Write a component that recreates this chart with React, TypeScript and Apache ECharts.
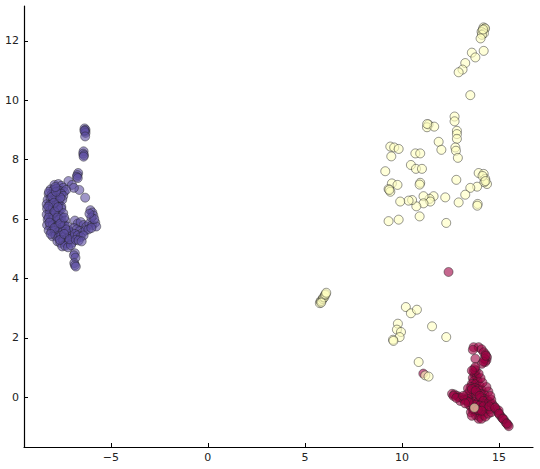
import React, { useEffect, useRef } from "react";
import * as echarts from "echarts";

const xTicks = [-5, 0, 5, 10, 15];
const yTicks = [0, 2, 4, 6, 8, 10, 12];

const crimsonPoints: number[][] = [
  [12.4, 4.22], [11.1, 0.8],
  [13.69, 1.69], [13.95, 1.69], [14.1, 1.62], [14.21, 1.52], [14.3, 1.45], [14.38, 1.35], [14.35, 1.25],
  [14.29, 1.19], [14.12, 1.13], [13.78, 1.3], [13.65, 1.6], [14.25, 1.3], [14.2, 1.2], [14.32, 1.4],
  [13.7, 0.85], [13.75, 0.75], [13.65, 0.65], [13.85, 0.7], [13.7, 0.55], [13.9, 0.55], [13.6, 0.45],
  [13.8, 0.45], [14.0, 0.4], [13.55, 0.35], [13.75, 0.32], [13.95, 0.28], [14.1, 0.25], [13.5, 0.22],
  [13.7, 0.18], [13.9, 0.15], [14.1, 0.12], [14.25, 0.1], [13.45, 0.05], [13.65, 0.02], [13.85, 0.0],
  [14.05, -0.02], [14.25, -0.05], [14.4, -0.1], [13.5, -0.12], [13.7, -0.15], [13.9, -0.18], [14.1, -0.2],
  [14.3, -0.22], [13.55, -0.3], [13.75, -0.32], [13.95, -0.35], [14.15, -0.38], [14.35, -0.4], [13.65, -0.45],
  [13.85, -0.5], [14.05, -0.52], [14.25, -0.48], [13.8, -0.6], [14.0, -0.65], [14.2, -0.6], [13.95, -0.72],
  [13.4, 0.3], [13.35, 0.1], [13.38, -0.05], [13.45, -0.25], [13.55, -0.5], [13.6, -0.62], [14.1, -0.72],
  [14.3, -0.65], [14.45, -0.55], [14.5, -0.4], [14.6, -0.5], [14.45, 0.2], [14.35, 0.35], [14.15, 0.5],
  [14.05, 0.65], [13.95, 0.8], [13.8, 0.9], [13.6, 0.28], [13.8, 0.22], [14.0, 0.05], [14.2, -0.12],
  [13.6, -0.2], [13.8, -0.25], [14.0, -0.28], [14.2, -0.3], [13.7, -0.4], [13.9, -0.42], [14.1, -0.45],
  [12.58, 0.12], [12.7, 0.1], [12.85, 0.05], [12.95, 0.0], [13.1, -0.02], [13.2, -0.08], [13.3, -0.1],
  [13.43, -0.16], [12.65, 0.05], [13.0, -0.12], [12.8, -0.02], [13.15, 0.05], [13.25, -0.2],
  [14.5, -0.15], [14.64, -0.21], [14.75, -0.3], [14.85, -0.4], [14.95, -0.5], [15.05, -0.6], [15.15, -0.68],
  [15.25, -0.75], [15.35, -0.85], [15.45, -0.92], [15.5, -0.97], [14.6, -0.08], [14.5, -0.3], [14.98, -0.44],
  [14.8, -0.35], [15.0, -0.55], [15.2, -0.72], [15.4, -0.88],
  [13.72, 0.95], [13.78, 1.02], [13.6, 0.9], [14.55, 0.05],
];

const yellowPoints: number[][] = [
  [14.2, 12.45], [14.25, 12.4], [14.15, 12.35], [14.28, 12.42], [14.1, 12.3], [14.22, 12.25], [14.12, 12.2],
  [14.18, 12.38], [14.05, 12.08], [14.21, 11.66], [13.6, 11.6], [13.78, 11.44], [13.26, 11.25], [13.12, 11.03],
  [12.92, 10.94], [13.52, 10.17],
  [11.37, 9.18], [11.29, 9.09], [11.66, 9.11], [11.3, 9.2],
  [12.71, 9.45], [12.71, 9.29], [12.83, 8.97], [12.83, 8.86], [12.83, 8.7], [12.75, 8.41], [12.78, 8.3],
  [12.88, 8.06], [11.89, 8.6], [12.03, 8.33],
  [9.4, 8.44], [9.6, 8.41], [9.83, 8.36], [9.45, 8.11], [10.69, 8.21], [10.94, 8.21],
  [10.46, 7.82], [10.72, 7.69], [11.03, 7.69], [9.14, 7.61], [12.8, 7.32], [10.94, 7.22], [10.91, 7.16],
  [9.48, 7.2], [9.77, 7.15], [9.31, 7.01], [9.4, 6.92], [9.35, 6.98],
  [13.95, 7.55], [14.21, 7.52], [14.29, 7.35], [14.38, 7.18], [14.24, 7.24], [14.15, 7.45], [14.3, 7.28],
  [13.87, 7.09], [13.52, 7.05], [13.26, 6.82], [12.92, 6.56], [13.9, 6.51], [13.88, 6.45],
  [12.23, 6.73], [11.63, 6.77], [11.42, 6.68], [11.46, 6.59], [11.11, 6.77], [11.11, 6.53], [10.74, 6.43],
  [10.52, 6.64], [10.34, 6.62], [9.91, 6.59],
  [9.31, 5.93], [9.83, 5.98], [10.91, 6.09], [12.28, 5.87],
  [10.2, 3.04], [10.46, 2.83], [10.77, 2.95], [9.79, 2.48], [9.74, 2.28], [9.95, 2.2], [9.88, 2.03],
  [9.54, 1.94], [9.56, 1.9], [11.55, 2.39], [12.28, 2.03], [10.86, 1.19], [11.2, 0.74], [11.37, 0.7],
  [13.73, -0.35],
  [5.77, 3.17], [5.81, 3.24], [5.86, 3.25], [5.92, 3.31], [5.95, 3.36], [6.0, 3.37], [6.03, 3.44],
  [6.07, 3.47], [6.1, 3.52], [5.84, 3.19],
];

const purplePoints: number[][] = [
  [-6.35, 9.05], [-6.3, 9.0], [-6.33, 8.95], [-6.3, 8.9], [-6.36, 8.98], [-6.32, 8.78],
  [-6.4, 8.28], [-6.42, 8.2], [-6.38, 8.15], [-6.4, 8.1],
  [-6.68, 7.55], [-6.72, 7.48], [-6.75, 7.42], [-6.7, 7.38],
  [-7.18, 7.28], [-6.62, 6.98], [-6.32, 6.72], [-7.0, 7.15], [-6.9, 7.05],
  [-7.9, 7.15], [-7.7, 7.18], [-7.55, 7.12], [-7.45, 7.05],
  [-8.1, 7.0], [-7.95, 6.98], [-7.8, 7.02], [-7.62, 6.95], [-7.4, 6.92], [-7.3, 6.98],
  [-8.2, 6.85], [-8.05, 6.82], [-7.88, 6.88], [-7.7, 6.8], [-7.55, 6.85], [-7.45, 6.78],
  [-8.25, 6.65], [-8.1, 6.7], [-7.95, 6.62], [-7.8, 6.68], [-7.65, 6.6], [-7.5, 6.65],
  [-8.3, 6.5], [-8.15, 6.48], [-8.0, 6.52], [-7.85, 6.45], [-7.7, 6.5], [-7.55, 6.42],
  [-8.28, 6.35], [-8.12, 6.3], [-7.98, 6.38], [-7.82, 6.32], [-7.68, 6.28], [-7.55, 6.35],
  [-8.3, 6.15], [-8.15, 6.18], [-8.0, 6.1], [-7.85, 6.2], [-7.7, 6.12], [-7.55, 6.08], [-7.45, 6.2],
  [-8.25, 5.98], [-8.1, 5.95], [-7.95, 6.02], [-7.8, 5.92], [-7.65, 5.98], [-7.5, 5.9], [-7.35, 5.95],
  [-8.28, 5.8], [-8.12, 5.78], [-7.98, 5.82], [-7.82, 5.75], [-7.68, 5.8], [-7.52, 5.72], [-7.38, 5.78], [-7.22, 5.75],
  [-8.2, 5.62], [-8.05, 5.58], [-7.9, 5.6], [-7.75, 5.55], [-7.6, 5.62], [-7.45, 5.58], [-7.3, 5.52], [-7.15, 5.6], [-7.0, 5.55],
  [-8.0, 5.42], [-7.85, 5.45], [-7.7, 5.38], [-7.55, 5.45], [-7.4, 5.4], [-7.25, 5.35], [-7.1, 5.42], [-6.95, 5.38],
  [-7.75, 5.25], [-7.6, 5.2], [-7.45, 5.28], [-7.3, 5.18], [-7.15, 5.25], [-7.0, 5.2],
  [-7.5, 5.08], [-7.35, 5.1], [-7.2, 5.05], [-7.05, 5.12],
  [-8.18, 6.92], [-8.02, 6.75], [-7.92, 6.55], [-8.22, 6.42], [-7.9, 6.25], [-8.2, 6.05], [-7.75, 6.05],
  [-8.15, 5.88], [-7.9, 5.7], [-8.1, 5.5], [-7.62, 5.3], [-7.3, 5.65], [-7.6, 6.72], [-7.82, 6.92],
  [-7.6, 5.85], [-7.4, 6.05], [-7.72, 6.4], [-7.4, 5.5], [-7.12, 5.32], [-7.85, 7.08],
  [-6.85, 5.95], [-6.7, 5.85], [-6.55, 5.9], [-6.4, 5.8], [-6.25, 5.75], [-6.1, 5.85], [-5.95, 5.8], [-5.8, 5.88], [-5.75, 5.75],
  [-6.9, 5.7], [-6.75, 5.65], [-6.6, 5.6], [-6.45, 5.55], [-6.3, 5.62], [-6.15, 5.65], [-6.0, 5.7],
  [-6.85, 5.5], [-6.7, 5.45], [-6.55, 5.4], [-6.4, 5.45],
  [-6.8, 5.3], [-6.65, 5.28], [-6.5, 5.25],
  [-6.05, 6.3], [-5.95, 6.22], [-5.9, 6.12], [-6.0, 6.05], [-5.85, 6.0], [-6.1, 6.18],
  [-6.85, 4.85], [-6.9, 4.78], [-6.82, 4.7], [-6.88, 4.52], [-6.85, 4.45], [-6.8, 4.4],
];

const fmt = (v: number) => String(v).replace("-", "\u2212");

export default function App() {
  const ref = useRef<HTMLDivElement>(null);
  useEffect(() => {
    if (!ref.current) return;
    const chart = echarts.init(ref.current, null, { renderer: "svg" });
    const common = {
      type: "scatter",
      symbol: "circle",
      symbolSize: 9,
    };
    const axisCommon = {
      axisLine: { show: true, onZero: false, lineStyle: { color: "#000", width: 1.2 } },
      splitLine: { show: false },
      axisLabel: {
        color: "#222",
        fontSize: 11,
        fontFamily: "DejaVu Sans",
        margin: 5,
        formatter: (v: number) => fmt(v),
      },
    };
    chart.setOption({
      animation: false,
      grid: { left: 24, right: 7, top: 6, bottom: 22 },
      xAxis: {
        type: "value",
        min: -9.47,
        max: 16.75,
        ...axisCommon,
        axisTick: { show: true, inside: true, length: 4, customValues: xTicks, lineStyle: { color: "#000" } },
        axisLabel: { ...axisCommon.axisLabel, customValues: xTicks },
      },
      yAxis: {
        type: "value",
        min: -1.67,
        max: 13.17,
        ...axisCommon,
        axisTick: { show: true, inside: true, length: 4, customValues: yTicks, lineStyle: { color: "#000" } },
        axisLabel: { ...axisCommon.axisLabel, customValues: yTicks },
      },
      series: [
        {
          ...common,
          data: crimsonPoints,
          itemStyle: { color: "#9e0142", borderColor: "#222", borderWidth: 0.8, opacity: 0.6 },
        },
        {
          ...common,
          data: yellowPoints,
          itemStyle: { color: "#ffffbf", borderColor: "#222", borderWidth: 0.8, opacity: 0.6 },
        },
        {
          ...common,
          data: purplePoints,
          itemStyle: { color: "#5e4fa2", borderColor: "#222", borderWidth: 0.8, opacity: 0.6 },
        },
      ],
    });
    return () => chart.dispose();
  }, []);
  return <div ref={ref} style={{ width: 540, height: 469, position: "absolute", left: 0, top: 0 }} />;
}
